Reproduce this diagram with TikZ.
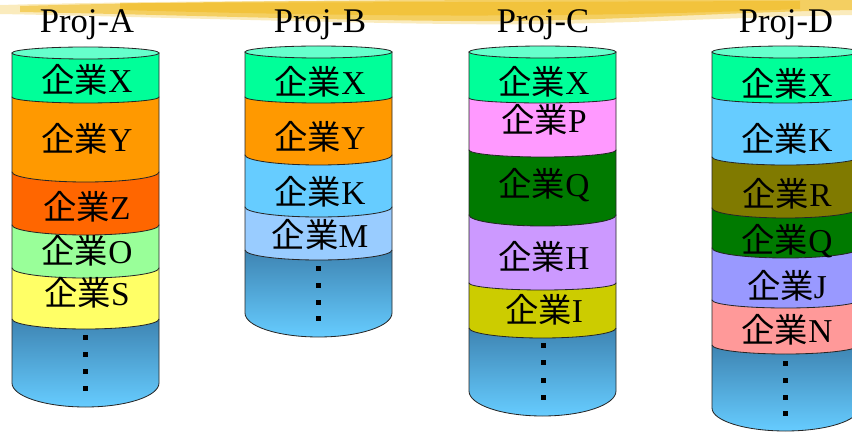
\documentclass[tikz,border=0pt]{standalone}
\usepackage{fontspec}
\setmainfont{Liberation Serif}
\newfontfamily\jpfont{Noto Sans CJK JP}
\usetikzlibrary{positioning}
\definecolor{capc}{HTML}{66FFCC}
\definecolor{colX}{HTML}{00FF99}
\definecolor{colY}{HTML}{FF9900}
\definecolor{colZ}{HTML}{FF6600}
\definecolor{colO}{HTML}{99FF99}
\definecolor{colS}{HTML}{FFFF66}
\definecolor{colK}{HTML}{66CCFF}
\definecolor{colM}{HTML}{99CCFF}
\definecolor{colP}{HTML}{FF99FF}
\definecolor{colQ}{HTML}{007A00}
\definecolor{colH}{HTML}{CC99FF}
\definecolor{colI}{HTML}{CCCC00}
\definecolor{colR}{HTML}{807A00}
\definecolor{colJ}{HTML}{9999FF}
\definecolor{colN}{HTML}{FF9999}
\definecolor{restTop}{RGB}{62,132,178}
\definecolor{restBot}{RGB}{102,204,255}
\definecolor{brush}{RGB}{240,188,36}
\newcommand{\kg}[1]{{\jpfont 企業}#1}
\newcommand{\cw}{147}
% one slice of a can: left x, top y, bottom y (at the sides), sag of the bottom rim, fill
\newcommand{\layer}[5]{%
  \filldraw[layer,fill=#5] (#1,#2) -- (#1,#3)
    arc[start angle=180,end angle=0,x radius=\cw/2,y radius=#4] -- (#1+\cw,#2) -- cycle;}
% shaded bottom slice, the part that goes on
\newcommand{\rest}[4]{%
  \path[top color=restTop,bottom color=restBot] (#1,#2) -- (#1,#3)
    arc[start angle=180,end angle=0,x radius=\cw/2,y radius=#4] -- (#1+\cw,#2) -- cycle;
  \draw[layer] (#1,#2) -- (#1,#3)
    arc[start angle=180,end angle=0,x radius=\cw/2,y radius=#4] -- (#1+\cw,#2);}
\newcommand{\lid}[2]{\filldraw[layer,fill=capc] (#1+\cw/2,#2) ellipse[x radius=\cw/2,y radius=6];}
\tikzset{
  layer/.style={draw=black!85,line width=0.7pt},
  firm/.style ={font=\fontsize{28.5}{30}\selectfont,inner sep=0pt,anchor=base},
  proj/.style ={font=\fontsize{29.5}{31}\selectfont,inner sep=0pt,anchor=base},
  dotsq/.style={fill=black},
}
\begin{document}
\begin{tikzpicture}[x=0.03cm,y=-0.03cm]
  \useasboundingbox (0,0) rectangle (852,432);
  % yellow brush stroke along the top
  \fill[brush,opacity=0.3] (0,5) .. controls (100,2) and (300,0) .. (500,0)
    -- (852,0) -- (852,15) .. controls (700,18) and (600,26) .. (450,24)
    .. controls (300,22) and (150,17) .. (0,14) -- cycle;
  \fill[brush,opacity=0.6] (20,6) .. controls (200,1) and (400,0) .. (600,0)
    -- (852,0) -- (852,10) .. controls (700,13) and (600,22) .. (460,21)
    .. controls (320,20) and (180,15) .. (20,12) -- cycle;
  \fill[brush,opacity=0.6] (120,3) -- (800,1) -- (800,9) .. controls (600,17) and (400,18) .. (120,10) -- cycle;
  \fill[white,opacity=0.5] (0,0) -- (300,0) .. controls (150,1) and (60,3) .. (0,5) -- cycle;

  % titles
  \node[proj] (pA) at (87,33)  {Proj-A};
  \node[proj] (pB) at (320,33) {Proj-B};
  \node[proj] (pC) at (543,33) {Proj-C};
  \node[proj] (pD) at (786,33) {Proj-D};

  % can A
  \rest{12}{319}{383}{24}
  \layer{12}{268}{319}{10}{colS}
  \layer{12}{225}{268}{10}{colO}
  \layer{12}{172}{225}{10}{colZ}
  \layer{12}{97}{172}{10}{colY}
  \layer{12}{53}{97}{6}{colX}
  \lid{12}{53}
  \node[firm] (aX) at (87,93)  {\kg{X}};
  \node[firm] (aY) at (87,152) {\kg{Y}};
  \node[firm] (aZ) at (87,220) {\kg{Z}};
  \node[firm] (aO) at (87,263) {\kg{O}};
  \node[firm] (aS) at (87,305) {\kg{S}};
  \foreach \y in {337,354,371,388} \fill[dotsq] (83,\y-2.5) rectangle (88,\y+2.5);

  % can B
  \rest{245}{250}{313}{24}
  \layer{245}{207}{250}{10}{colM}
  \layer{245}{155}{207}{10}{colK}
  \layer{245}{97}{155}{10}{colY}
  \layer{245}{52}{97}{6}{colX}
  \lid{245}{52}
  \node[firm] (bX) at (320,95)  {\kg{X}};
  \node[firm] (bY) at (320,150) {\kg{Y}};
  \node[firm] (bK) at (320,205) {\kg{K}};
  \node[firm] (bM) at (320,248) {\kg{M}};
  \foreach \y in {268,285,302,318} \fill[dotsq] (316,\y-2.5) rectangle (321,\y+2.5);

  % can C
  \rest{469}{328}{391}{25}
  \layer{469}{283}{328}{10}{colI}
  \layer{469}{215}{283}{7}{colH}
  \layer{469}{150}{215}{11}{colQ}
  \layer{469}{98}{150}{7}{colP}
  \layer{469}{52}{98}{5}{colX}
  \lid{469}{52}
  \node[firm] (cX) at (544,95)  {\kg{X}};
  \node[firm] (cP) at (544,133) {\kg{P}};
  \node[firm] (cQ) at (544,197) {\kg{Q}};
  \node[firm] (cH) at (544,270) {\kg{H}};
  \node[firm] (cI) at (544,322) {\kg{I}};
  \foreach \y in {345,362,380,397} \fill[dotsq] (541,\y-2.5) rectangle (546,\y+2.5);

  % can D
  \rest{712}{345}{408}{23}
  \layer{712}{300}{345}{9}{colN}
  \layer{712}{248}{300}{8}{colJ}
  \layer{712}{208}{248}{10}{colQ}
  \layer{712}{157}{208}{10}{colR}
  \layer{712}{97}{157}{8}{colK}
  \layer{712}{52}{97}{6}{colX}
  \lid{712}{52}
  \node[firm] (dX) at (787,97)  {\kg{X}};
  \node[firm] (dK) at (787,152) {\kg{K}};
  \node[firm] (dR) at (787,207) {\kg{R}};
  \node[firm] (dQ) at (787,253) {\kg{Q}};
  \node[firm] (dJ) at (787,298) {\kg{J}};
  \node[firm] (dN) at (787,342) {\kg{N}};
  \foreach \y in {363,380,397,413} \fill[dotsq] (783,\y-2.5) rectangle (788,\y+2.5);
\end{tikzpicture}
\end{document}
